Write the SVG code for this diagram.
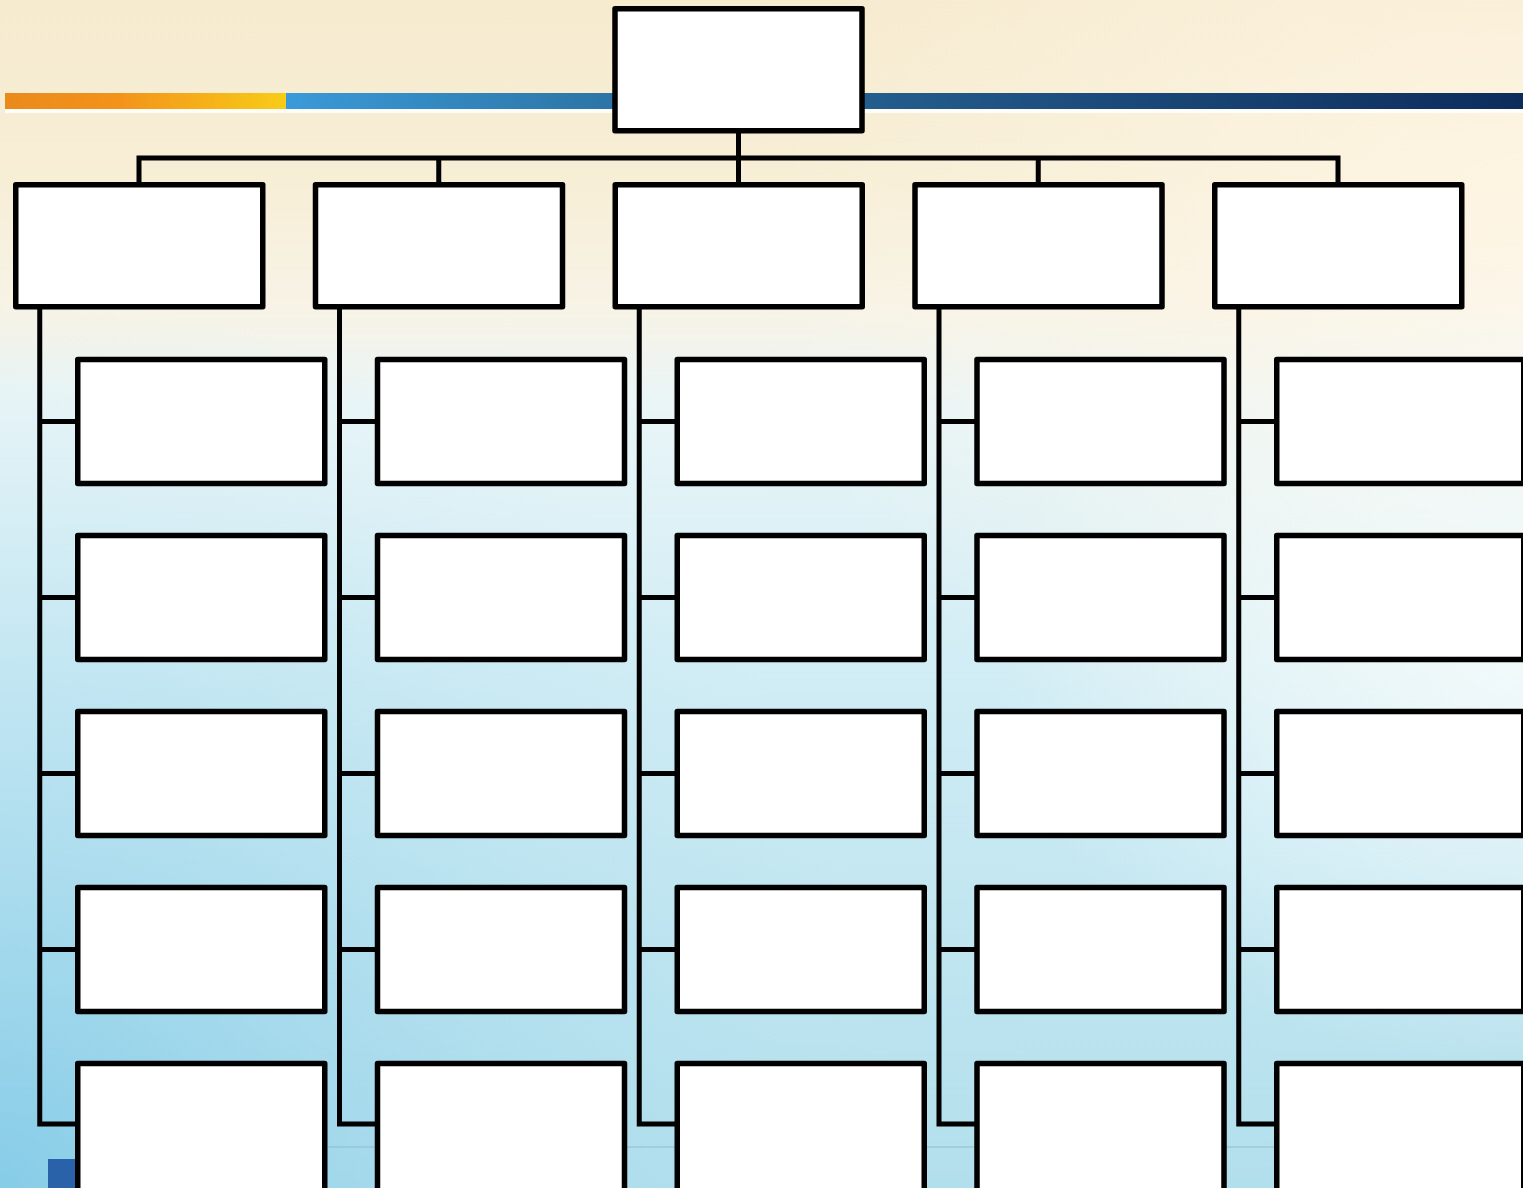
<svg xmlns="http://www.w3.org/2000/svg" width="1523" height="1188" viewBox="0 0 1523 1188">
<defs>
<linearGradient id="bg" x1="0" y1="0" x2="0" y2="1">
<stop offset="0" stop-color="#f6ebcf"/>
<stop offset="0.15" stop-color="#f7eed6"/>
<stop offset="0.26" stop-color="#f7f3e6"/>
<stop offset="0.34" stop-color="#e9f5f7"/>
<stop offset="0.55" stop-color="#d2edf5"/>
<stop offset="0.8" stop-color="#bfe5f0"/>
<stop offset="1" stop-color="#b2dfec"/>
</linearGradient>
<radialGradient id="bl" cx="0" cy="1" r="0.75" gradientUnits="objectBoundingBox" gradientTransform="scale(0.8,1)">
<stop offset="0" stop-color="#74c4e6" stop-opacity="0.7"/>
<stop offset="0.5" stop-color="#92d1ea" stop-opacity="0.3"/>
<stop offset="1" stop-color="#b8e2f0" stop-opacity="0"/>
</radialGradient>
<radialGradient id="tr" cx="1" cy="0.2" r="0.5">
<stop offset="0" stop-color="#fff6e6" stop-opacity="0.8"/>
<stop offset="1" stop-color="#fff6e6" stop-opacity="0"/>
</radialGradient>
<radialGradient id="rw" cx="1" cy="0.55" r="0.35">
<stop offset="0" stop-color="#f4fbfc" stop-opacity="0.9"/>
<stop offset="1" stop-color="#f4fbfc" stop-opacity="0"/>
</radialGradient>
<linearGradient id="orange" x1="0" y1="0" x2="1" y2="0">
<stop offset="0" stop-color="#ea8a1c"/>
<stop offset="0.4" stop-color="#f3931a"/>
<stop offset="1" stop-color="#f8cc18"/>
</linearGradient>
<linearGradient id="blue" x1="0" y1="0" x2="1" y2="0">
<stop offset="0" stop-color="#3a9ad9"/>
<stop offset="0.3" stop-color="#2a6f9e"/>
<stop offset="0.7" stop-color="#1a4777"/>
<stop offset="1" stop-color="#0d2c5c"/>
</linearGradient>
<style>
.box{fill:#ffffff;stroke:#000000;stroke-width:5.5;stroke-linejoin:round}
.con{fill:none;stroke:#000000;stroke-width:5;stroke-linejoin:miter}
</style>
</defs>
<g id="background">
<rect x="0" y="0" width="1523" height="1188" fill="url(#bg)"/>
<rect x="0" y="0" width="1523" height="1188" fill="url(#bl)"/>
<rect x="0" y="0" width="1523" height="1188" fill="url(#tr)"/>
<rect x="0" y="0" width="1523" height="1188" fill="url(#rw)"/>
<rect x="5" y="109" width="1518" height="4" fill="#ffffff" opacity="0.85"/>
<rect x="5" y="93" width="281" height="16" fill="url(#orange)"/>
<rect x="286" y="93" width="1237" height="16" fill="url(#blue)"/>
<line x1="250" y1="1147" x2="1523" y2="1147" stroke="#8fb8c8" stroke-width="1.5" opacity="0.6"/>
<rect x="48" y="1159" width="30" height="29" fill="#2a62aa"/>
</g>
<g id="connectors">
<path class="con" d="M738.5 131 V185 M139 185 V158 H1338 V185 M438.75 158 V185 M1038.25 158 V185"/>
<path class="con" d="M39.75 308 V1124 H78 M39.75 421.5 H78 M39.75 597.5 H78 M39.75 773.5 H78 M39.75 949.5 H78"/>
<path class="con" d="M339.5 308 V1124 H378 M339.5 421.5 H378 M339.5 597.5 H378 M339.5 773.5 H378 M339.5 949.5 H378"/>
<path class="con" d="M639.25 308 V1124 H678 M639.25 421.5 H678 M639.25 597.5 H678 M639.25 773.5 H678 M639.25 949.5 H678"/>
<path class="con" d="M939 308 V1124 H977 M939 421.5 H977 M939 597.5 H977 M939 773.5 H977 M939 949.5 H977"/>
<path class="con" d="M1238.75 308 V1124 H1277 M1238.75 421.5 H1277 M1238.75 597.5 H1277 M1238.75 773.5 H1277 M1238.75 949.5 H1277"/>
</g>
<g id="root"><rect class="box" x="615" y="8.75" width="247" height="122"/></g>
<g id="l1-1"><rect class="box" x="15.75" y="184.75" width="247" height="122"/></g>
<g id="l1-2"><rect class="box" x="315.5" y="184.75" width="247" height="122"/></g>
<g id="l1-3"><rect class="box" x="615.25" y="184.75" width="247" height="122"/></g>
<g id="l1-4"><rect class="box" x="915" y="184.75" width="247" height="122"/></g>
<g id="l1-5"><rect class="box" x="1214.75" y="184.75" width="247" height="122"/></g>
<g id="c1-1"><rect class="box" x="77.75" y="359.5" width="247" height="124"/></g>
<g id="c1-2"><rect class="box" x="77.75" y="535.5" width="247" height="124"/></g>
<g id="c1-3"><rect class="box" x="77.75" y="711.5" width="247" height="124"/></g>
<g id="c1-4"><rect class="box" x="77.75" y="887.5" width="247" height="124"/></g>
<g id="c1-5"><rect class="box" x="77.75" y="1063.5" width="247" height="134"/></g>
<g id="c2-1"><rect class="box" x="377.5" y="359.5" width="247" height="124"/></g>
<g id="c2-2"><rect class="box" x="377.5" y="535.5" width="247" height="124"/></g>
<g id="c2-3"><rect class="box" x="377.5" y="711.5" width="247" height="124"/></g>
<g id="c2-4"><rect class="box" x="377.5" y="887.5" width="247" height="124"/></g>
<g id="c2-5"><rect class="box" x="377.5" y="1063.5" width="247" height="134"/></g>
<g id="c3-1"><rect class="box" x="677.25" y="359.5" width="247" height="124"/></g>
<g id="c3-2"><rect class="box" x="677.25" y="535.5" width="247" height="124"/></g>
<g id="c3-3"><rect class="box" x="677.25" y="711.5" width="247" height="124"/></g>
<g id="c3-4"><rect class="box" x="677.25" y="887.5" width="247" height="124"/></g>
<g id="c3-5"><rect class="box" x="677.25" y="1063.5" width="247" height="134"/></g>
<g id="c4-1"><rect class="box" x="977" y="359.5" width="247" height="124"/></g>
<g id="c4-2"><rect class="box" x="977" y="535.5" width="247" height="124"/></g>
<g id="c4-3"><rect class="box" x="977" y="711.5" width="247" height="124"/></g>
<g id="c4-4"><rect class="box" x="977" y="887.5" width="247" height="124"/></g>
<g id="c4-5"><rect class="box" x="977" y="1063.5" width="247" height="134"/></g>
<g id="c5-1"><rect class="box" x="1276.75" y="359.5" width="247" height="124"/></g>
<g id="c5-2"><rect class="box" x="1276.75" y="535.5" width="247" height="124"/></g>
<g id="c5-3"><rect class="box" x="1276.75" y="711.5" width="247" height="124"/></g>
<g id="c5-4"><rect class="box" x="1276.75" y="887.5" width="247" height="124"/></g>
<g id="c5-5"><rect class="box" x="1276.75" y="1063.5" width="247" height="134"/></g>
</svg>
